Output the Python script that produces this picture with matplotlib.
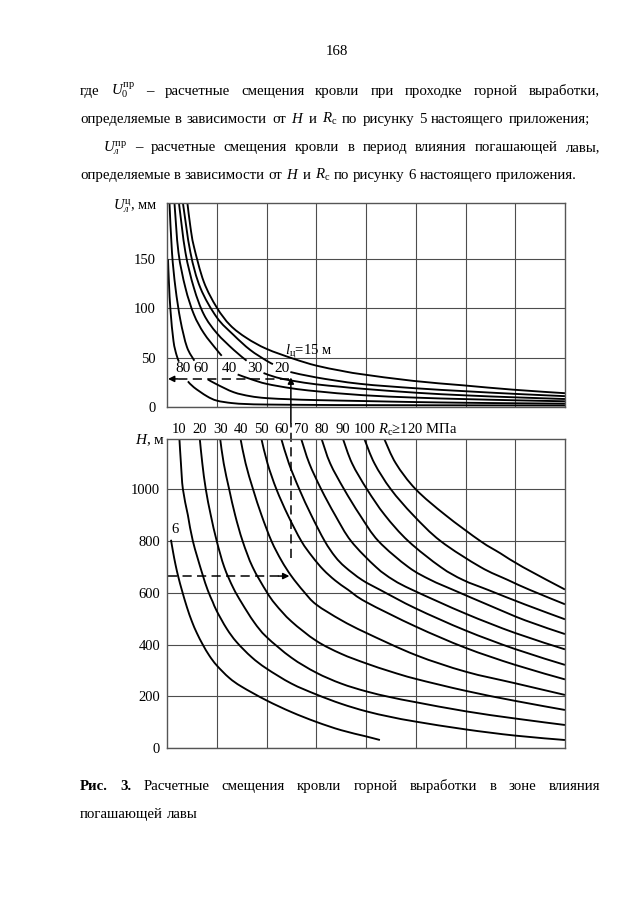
import matplotlib
matplotlib.use("Agg")
import matplotlib.pyplot as plt
from matplotlib.path import Path
from matplotlib.patches import PathPatch

plt.rcParams['font.family'] = ['Liberation Serif', 'DejaVu Serif']
plt.rcParams['mathtext.fontset'] = 'custom'
plt.rcParams['mathtext.rm'] = 'Liberation Serif'
plt.rcParams['mathtext.it'] = 'Liberation Serif:italic'
plt.rcParams['mathtext.bf'] = 'Liberation Serif:bold'

# ---------------- data: upper chart  U (mm) vs common abscissa ----------------
U_ticks = [0, 50, 100, 150]
U_labels = ['15', '20', '30', '40', '60', '80']

U15_x = [0.41, 0.47, 0.54, 0.74, 1.0, 1.27, 1.6, 2.0, 2.54, 3.0, 3.5, 3.88, 4.95, 5.95, 6.95, 8.0]
U15_y = [207, 183, 163, 127, 101, 83, 70, 59, 49, 42, 36.8, 33.5, 26.5, 22, 17.6, 14]

U20a_x = [0.32, 0.47, 0.67, 1.0, 1.34, 1.67, 2.0, 2.13]
U20a_y = [207, 157, 121, 91, 73, 58, 47, 43.5]
U20b_x = [2.48, 3.0, 3.88, 5.0, 6.0, 7.0, 8.0]
U20b_y = [35.5, 30, 23.5, 19, 16, 13.3, 11]

U30a_x = [0.24, 0.37, 0.54, 0.74, 1.0, 1.34, 1.6]
U30a_y = [207, 157, 121, 94, 75, 58, 47]
U30b_x = [1.94, 2.2, 2.54, 3.0, 3.5, 3.93, 5.0, 6.0, 7.0, 8.0]
U30b_y = [34.5, 30, 26.5, 23, 20.5, 18.5, 14.5, 11.8, 9.8, 8.1]

U40a_x = [0.15, 0.23, 0.37, 0.54, 0.74, 1.0, 1.1]
U40a_y = [207, 157, 121, 94, 75, 58, 52]
U40b_x = [1.42, 1.7, 2.0, 2.5, 3.0, 3.93, 5.0, 6.0, 7.0, 8.0]
U40b_y = [33, 28, 23.5, 19, 16, 12, 9.5, 8, 6.8, 5.8]

U60a_x = [0.05, 0.1, 0.17, 0.27, 0.4, 0.55]
U60a_y = [207, 157, 121, 88, 61, 47]
U60b_x = [0.82, 1.0, 1.34, 1.67, 2.0, 2.5, 3.0, 4.0, 5.0, 6.0, 7.0, 8.0]
U60b_y = [28, 23, 15, 11, 9, 7.8, 7, 6, 5, 4.3, 3.8, 3.4]

U80a_x = [0.02, 0.04, 0.07, 0.13, 0.19, 0.24]
U80a_y = [150, 125, 98, 67, 53, 46]
U80b_x = [0.42, 0.54, 0.8, 1.0, 1.3, 1.6, 2.0, 3.0, 4.0, 6.0, 8.0]
U80b_y = [26, 20, 11, 6.5, 4, 3.0, 2.5, 2.1, 1.9, 1.7, 1.5]

# ---------------- data: lower chart  H (m) vs common abscissa ----------------
H_ticks = [0, 200, 400, 600, 800, 1000]
R_labels = ['6', '10', '20', '30', '40', '50', '60', '70', '80', '90', '100', '120']

H6_x = [0.08, 0.12, 0.17, 0.23, 0.3, 0.4, 0.5, 0.6, 0.72, 0.85, 1.0, 1.25, 1.5, 2.0, 2.5, 3.0, 3.5, 4.0, 4.28]
H6_y = [805, 760, 710, 660, 610, 545, 490, 445, 400, 358, 320, 272, 238, 185, 140, 102, 70, 46, 32]
H10_x = [0.25, 0.28, 0.32, 0.42, 0.52, 0.7, 0.82, 0.92, 1.0, 1.2, 1.4, 1.7, 2.0, 2.5, 3.0, 3.5, 4.0, 4.5, 5.0, 6.0, 7.0, 8.0]
H10_y = [1193, 1100, 1000, 900, 800, 680, 610, 565, 530, 462, 410, 352, 308, 250, 208, 172, 143, 121, 103, 73, 49, 32]
H20_x = [0.66, 0.71, 0.78, 0.88, 1.0, 1.15, 1.33, 1.5, 1.75, 2.0, 2.5, 3.0, 3.5, 4.0, 4.5, 5.0, 6.0, 7.0, 8.0]
H20_y = [1193, 1100, 1000, 900, 800, 700, 620, 562, 487, 430, 350, 292, 250, 220, 197, 178, 143, 115, 90]
H30_x = [1.07, 1.14, 1.25, 1.37, 1.52, 1.72, 2.0, 2.18, 2.5, 3.0, 3.5, 4.0, 4.5, 5.0, 6.0, 7.0, 8.0]
H30_y = [1193, 1100, 1000, 900, 800, 700, 605, 556, 490, 415, 365, 328, 296, 268, 222, 183, 148]
H40_x = [1.48, 1.58, 1.73, 1.9, 2.1, 2.3, 2.5, 2.75, 3.0, 3.5, 4.0, 5.0, 6.0, 7.0, 8.0]
H40_y = [1193, 1100, 1000, 900, 800, 725, 665, 605, 555, 495, 446, 360, 296, 251, 206]
H50_x = [1.9, 2.02, 2.2, 2.43, 2.7, 2.92, 3.14, 3.38, 3.64, 4.0, 5.0, 6.0, 7.0, 8.0]
H50_y = [1193, 1100, 1000, 900, 800, 740, 690, 648, 612, 565, 470, 388, 322, 266]
H60_x = [2.3, 2.45, 2.66, 2.9, 3.17, 3.38, 3.58, 3.92, 4.3, 5.0, 6.0, 7.0, 8.0]
H60_y = [1193, 1100, 1000, 900, 800, 740, 700, 650, 610, 540, 455, 383, 322]
H70_x = [2.7, 2.86, 3.1, 3.38, 3.7, 4.2, 4.55, 4.95, 6.0, 7.0, 8.0]
H70_y = [1193, 1100, 1000, 900, 800, 700, 650, 610, 520, 445, 382]
H80_x = [3.11, 3.28, 3.56, 3.88, 4.25, 4.85, 5.3, 5.76, 6.5, 7.2, 8.0]
H80_y = [1193, 1100, 1000, 900, 800, 700, 650, 611, 550, 494, 441]
H90_x = [3.54, 3.72, 4.02, 4.38, 4.85, 5.5, 5.95, 6.46, 7.2, 8.0]
H90_y = [1193, 1100, 1000, 900, 800, 700, 650, 611, 555, 498]
H100_x = [3.97, 4.17, 4.5, 4.95, 5.5, 6.3, 6.85, 7.3, 8.0]
H100_y = [1193, 1100, 1000, 900, 800, 700, 650, 611, 556]
H120_x = [4.37, 4.6, 5.0, 5.6, 6.3, 6.7, 7.15, 8.0]
H120_y = [1193, 1100, 1000, 900, 800, 753, 700, 613]

# worked example on the nomogram
EX_H = 665
EX_X = 2.49
EX_U = 28.5

# ---------------- figure ----------------
W, HH = 640, 905
fig = plt.figure(figsize=(W / 100, HH / 100), dpi=100)
fig.patch.set_facecolor('white')
renderer = fig.canvas.get_renderer()


def fx(x):
    return x / W


def fy(y):
    return 1 - y / HH


def curve(ax, xs, ys, lw=1.35):
    """Draw a smooth line through the read points (cubic Bezier path)."""
    n = len(xs)
    verts = [(xs[0], ys[0])]
    codes = [Path.MOVETO]
    for i in range(n - 1):
        a = max(i - 1, 0)
        d = min(i + 2, n - 1)
        c1 = (xs[i] + (xs[i + 1] - xs[a]) / 6, ys[i] + (ys[i + 1] - ys[a]) / 6)
        c2 = (xs[i + 1] - (xs[d] - xs[i]) / 6, ys[i + 1] - (ys[d] - ys[i]) / 6)
        verts += [c1, c2, (xs[i + 1], ys[i + 1])]
        codes += [Path.CURVE4] * 3
    ax.add_patch(PathPatch(Path(verts, codes), fill=False, edgecolor='k', lw=lw,
                           capstyle='butt', joinstyle='round'))


ax1 = fig.add_axes([fx(167), fy(407), (565 - 167) / W, (407 - 202.5) / HH])
ax2 = fig.add_axes([fx(167), fy(748.3), (565 - 167) / W, (748.3 - 439.3) / HH])

GRID = '#4d4d4d'
for ax in (ax1, ax2):
    ax.set_xlim(0, 8)
    ax.set_xticks(range(1, 8))
    ax.tick_params(length=0, labelbottom=False, labelsize=10.5)
    ax.grid(True, color=GRID, lw=0.8)
    ax.set_axisbelow(True)
    for s in ax.spines.values():
        s.set_color('#555555')
        s.set_linewidth(1.0)

ax1.set_ylim(0, 207.5)
ax1.set_yticks(U_ticks)
ax1.tick_params(axis='y', pad=8)
ax2.set_ylim(0, 1193)
ax2.set_yticks(H_ticks)
ax2.tick_params(axis='y', pad=5)

# upper chart curves
curve(ax1, U15_x, U15_y)
pairs = [(U20a_x, U20a_y, U20b_x, U20b_y, '20'),
         (U30a_x, U30a_y, U30b_x, U30b_y, '30'),
         (U40a_x, U40a_y, U40b_x, U40b_y, '40'),
         (U60a_x, U60a_y, U60b_x, U60b_y, '60'),
         (U80a_x, U80a_y, U80b_x, U80b_y, '80')]
for ax_, ay_, bx_, by_, lab in pairs:
    curve(ax1, ax_, ay_)
    curve(ax1, bx_, by_)
    ax1.text((ax_[-1] + bx_[0]) / 2, 39.5, lab, ha='center', va='center', fontsize=11)
ax1.text(U20b_x[0] - 0.11, 55.5, r'$l_{\mathrm{ц}}$=15 м', ha='left', va='center', fontsize=10.5)

# lower chart curves
H_curves = [(H6_x, H6_y), (H10_x, H10_y), (H20_x, H20_y), (H30_x, H30_y), (H40_x, H40_y),
            (H50_x, H50_y), (H60_x, H60_y), (H70_x, H70_y), (H80_x, H80_y), (H90_x, H90_y),
            (H100_x, H100_y), (H120_x, H120_y)]
for (hx, hy), lab in zip(H_curves, R_labels):
    curve(ax2, hx, hy)
    if lab == '6':
        ax2.text(hx[0] + 0.09, hy[0] + 38, lab, ha='center', va='center', fontsize=10.5)
    elif lab == '120':
        ax2.text(hx[0] - 0.13, 1229, r'$R_{\mathrm{c}}$≥120 МПа', ha='left', va='center',
                 fontsize=10.5, clip_on=False)
    else:
        ax2.text(hx[0], 1229, lab, ha='center', va='center', fontsize=10.5, clip_on=False)

# worked example arrows
DASH = (6, 3.5)
ax1.plot([EX_X - 0.03, 0.16], [EX_U, EX_U], color='k', lw=1.1, dashes=DASH)
ax1.annotate('', xy=(0.02, EX_U), xytext=(0.22, EX_U),
             arrowprops=dict(arrowstyle='-|>', color='k', lw=1.1, mutation_scale=9,
                             shrinkA=0, shrinkB=0))
ax1.annotate('', xy=(EX_X, EX_U + 1.5), xytext=(EX_X, -16), annotation_clip=False,
             arrowprops=dict(arrowstyle='-|>', color='k', lw=1.1, mutation_scale=9,
                             shrinkA=0, shrinkB=0))
ax2.plot([0.02, EX_X - 0.2], [EX_H, EX_H], color='k', lw=1.1, dashes=DASH)
ax2.annotate('', xy=(EX_X - 0.03, EX_H), xytext=(EX_X - 0.25, EX_H),
             arrowprops=dict(arrowstyle='-|>', color='k', lw=1.1, mutation_scale=9,
                             shrinkA=0, shrinkB=0))
ax2.plot([EX_X + 0.01, EX_X + 0.01], [EX_H + 70, 1255], color='k', lw=1.1, dashes=DASH,
         clip_on=False)

# axis titles
fig.text(fx(113), fy(209), r'$U_{л}^{\mathrm{ц}}$, мм', fontsize=10.5, ha='left', va='baseline')
fig.text(fx(135), fy(444), r'$H$, м', fontsize=11, ha='left', va='baseline')


# ---------------- page text ----------------
def measure(s, size, weight='normal'):
    t = fig.text(0, 0, s, fontsize=size, fontweight=weight)
    w = t.get_window_extent(renderer).width
    t.remove()
    return w


def layout(words, x0, base, size, x1=None):
    ts = []
    for w in words:
        if isinstance(w, tuple):
            txt, wt = w
        else:
            txt, wt = w, 'normal'
        ts.append(fig.text(0, 0, txt, fontsize=size, fontweight=wt, ha='left', va='baseline'))
    ws = [t.get_window_extent(renderer).width for t in ts]
    if x1 is not None and len(ts) > 1:
        gap = (x1 - x0 - sum(ws)) / (len(ts) - 1)
    else:
        gap = size * 100 / 72 * 0.25
    x = x0
    for t, w in zip(ts, ws):
        t.set_position((fx(x), fy(base)))
        x += w + gap


line4 = ['определяемые', 'в', 'зависимости', 'от', '$H$', 'и', r'$R_{\mathrm{c}}$', 'по',
         'рисунку', '6', 'настоящего', 'приложения.']
sp11 = 11 * 100 / 72 * 0.25
nat = sum(measure(w, 11) for w in line4) + sp11 * (len(line4) - 1)
FS = 11 * (578 - 80) / nat

fig.text(fx(337), fy(55), '168', fontsize=FS, ha='center', va='baseline')
line1 = ['где', r'$U_0^{\mathrm{пр}}$', '–', 'расчетные', 'смещения', 'кровли', 'при',
         'проходке', 'горной', 'выработки,']
line2 = ['определяемые', 'в', 'зависимости', 'от', '$H$', 'и', r'$R_{\mathrm{c}}$', 'по',
         'рисунку', '5', 'настоящего', 'приложения;']
line3 = [r'$U_{л}^{\mathrm{пр}}$', '–', 'расчетные', 'смещения', 'кровли', 'в', 'период',
         'влияния', 'погашающей', 'лавы,']
layout(line1, 80, 95, FS, 600)
layout(line2, 80, 123, FS, 590)
layout(line3, 103, 151, FS, 600)
layout(line4, 80, 179, FS)

cap1 = [('Рис.', 'bold'), ('3.', 'bold'), 'Расчетные', 'смещения', 'кровли', 'горной',
        'выработки', 'в', 'зоне', 'влияния']
cap2 = ['погашающей', 'лавы']
layout(cap1, 80, 790, FS, 600)
layout(cap2, 80, 818, FS)

fig.savefig('out.png', dpi=100, facecolor='white')
